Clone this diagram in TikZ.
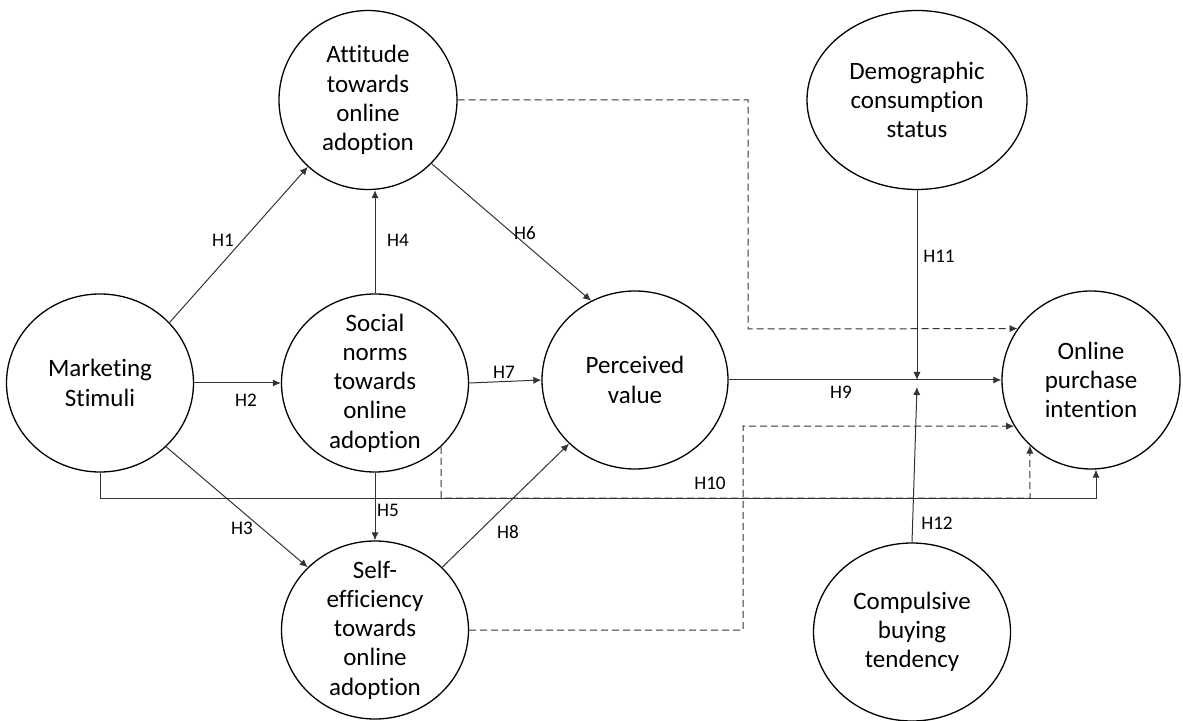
\documentclass[tikz,border=0pt]{standalone}
\usepackage{fontspec}
\setmainfont{Carlito}[Ligatures=NoCommon]
\usetikzlibrary{shapes.geometric,arrows.meta}
\begin{document}
\begin{tikzpicture}[x=0.5pt,y=-0.5pt,
  ell/.style={draw=black,ellipse,line width=0.65pt,inner sep=0pt,fill=white},
  txt/.style={align=center,font=\fontsize{12.5}{14.6}\selectfont,inner sep=0pt},
  hl/.style={font=\fontsize{9.6}{11}\selectfont,inner sep=0pt},
  conn/.style={draw=black!80,line width=0.5pt,-{Latex[length=4pt,width=3.6pt]}},
  dconn/.style={conn,dash pattern=on 3.5pt off 2pt}]
\useasboundingbox (0,0) rectangle (1183,721);
% ellipses
\node[ell,minimum width=93.5pt,minimum height=89pt,label={[txt]center:Marketing\\Stimuli}] (ms) at (100,383) {};
\node[ell,minimum width=89pt,minimum height=89.5pt,label={[txt]center:Attitude\\towards\\online\\adoption}] (att) at (368,100) {};
\node[ell,minimum width=93.5pt,minimum height=89pt,label={[txt]center:Social\\norms\\towards\\online\\adoption}] (soc) at (375,383) {};
\node[ell,minimum width=93pt,minimum height=89pt,label={[txt]center:Perceived\\value}] (pv) at (635,380) {};
\node[ell,minimum width=93.5pt,minimum height=89pt,label={[txt]center:Self-\\efficiency\\towards\\online\\adoption}] (sel) at (375,630) {};
\node[ell,minimum width=110pt,minimum height=89.5pt,label={[txt]center:Demographic\\consumption\\status}] (dem) at (917,100) {};
\node[ell,minimum width=89pt,minimum height=89pt,label={[txt]center:Online\\purchase\\intention}] (opi) at (1091,380) {};
\node[ell,minimum width=98.5pt,minimum height=89pt,label={[txt]center:Compulsive\\buying\\tendency}] (cbt) at (912,632) {};
% junction coordinates
\coordinate (j1) at (917,380);
\coordinate (j2) at (917,387);
\coordinate (h10) at (1096,498);
\coordinate (d1) at (1030,498);
\coordinate (d2) at (748,329);
\coordinate (d3) at (743,426);
% connectors
\draw[conn] (ms.41) -- (att.228);
\draw[conn] (ms.east) -- (soc.west);
\draw[conn] (ms.316) -- (sel.137);
\draw[conn] (soc.north) -- (soc.north |- att.south);
\draw[conn] (soc.south) -- (sel.north);
\draw[conn] (att.315) -- (pv.119);
\draw[conn] (soc.east) -- (pv.west);
\draw[conn] (sel.43) -- (pv.224);
\draw[conn] (pv.east) -- (opi.west);
\draw[conn] (dem.south) -- (j1);
\draw[conn] (cbt.north) -- (j2);
\draw[conn] (ms.south) |- (h10) -- (h10 |- opi.south);
\draw[dconn] (soc.316) |- (d1) -- (opi.227);
\draw[dconn] (att.east) -| (d2) -- (opi.145);
\draw[dconn] (sel.east) -| (d3) -- (opi.211);
% labels
\node[hl] (l1) at (223,240) {H1};
\node[hl] (l2) at (246,400) {H2};
\node[hl] (l3) at (242,528) {H3};
\node[hl] (l4) at (398,240) {H4};
\node[hl] (l5) at (388,510) {H5};
\node[hl] (l6) at (525,233) {H6};
\node[hl] (l7) at (504,372) {H7};
\node[hl] (l8) at (508,532) {H8};
\node[hl] (l9) at (841,392) {H9};
\node[hl] (l10) at (710,483) {H10};
\node[hl] (l11) at (939,256) {H11};
\node[hl] (l12) at (937,523) {H12};
\end{tikzpicture}
\end{document}
